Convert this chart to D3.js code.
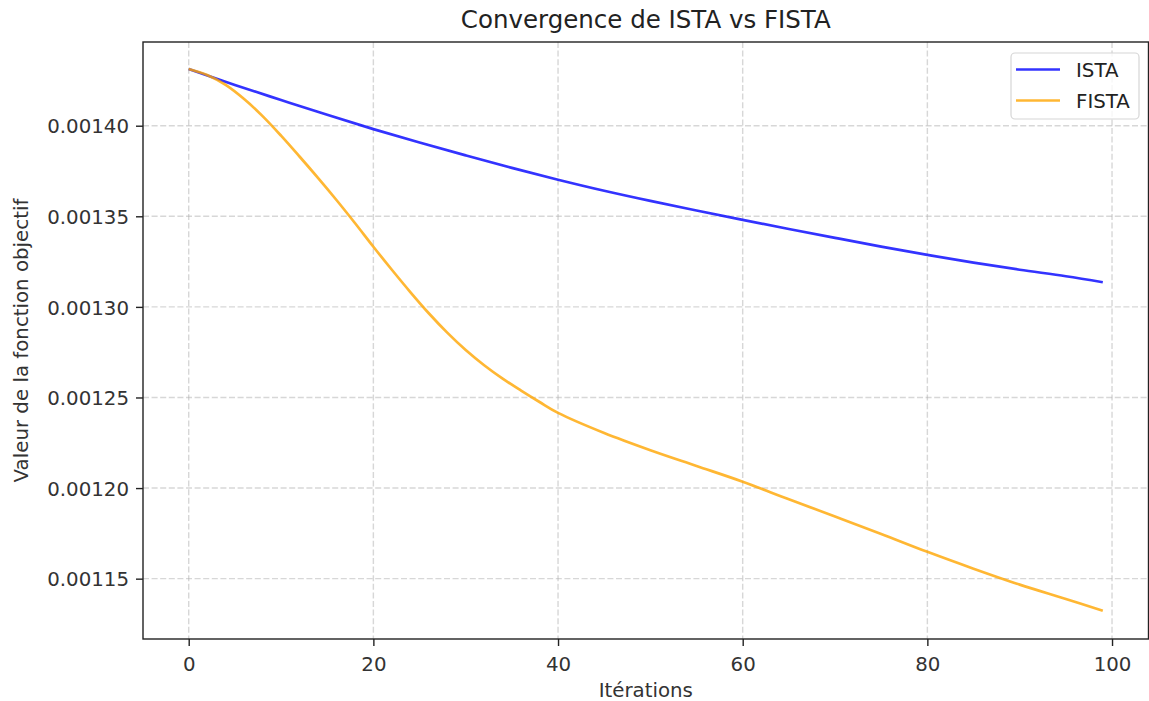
<!DOCTYPE html>
<html>
<head>
<meta charset="utf-8">
<script src="https://cdn.jsdelivr.net/npm/d3@7"></script>
<style>
  html, body { margin: 0; padding: 0; background: #fff; }
  svg { display: block; font-family: "DejaVu Sans", sans-serif; }
</style>
</head>
<body>
<svg width="1149" height="701"></svg>
<script>
// ISTA: iterations and objective values
var istaIterations = [0, 5, 10, 15, 20, 25, 30, 35, 40, 45, 50, 55, 60, 65, 70, 75, 80, 85, 90, 95, 99];
var istaValues = [0.0014313, 0.0014225, 0.0014142, 0.0014060, 0.0013981, 0.0013907, 0.0013836,
  0.0013767, 0.0013702, 0.0013641, 0.0013585, 0.0013532, 0.0013480, 0.0013430, 0.0013381,
  0.0013333, 0.0013287, 0.0013244, 0.0013205, 0.0013169, 0.0013136];

// FISTA: denser at the start where the curve bends
var fistaIterations = [0, 2, 4, 6, 8, 10, 12, 14, 16, 18, 20, 22, 24, 26, 28, 30, 32, 34, 36, 38, 40,
  45, 50, 55, 60, 65, 70, 75, 80, 85, 90, 95, 99];
var fistaValues = [0.0014313, 0.0014280, 0.0014225, 0.0014147, 0.0014053, 0.0013945, 0.0013830,
  0.0013712, 0.0013590, 0.0013463, 0.0013332, 0.0013205, 0.0013082, 0.0012965, 0.0012858,
  0.0012762, 0.0012678, 0.0012604, 0.0012538, 0.0012475, 0.0012415,
  0.0012304, 0.0012209, 0.0012122, 0.0012035, 0.0011938, 0.0011843, 0.0011747, 0.0011648,
  0.0011555, 0.0011467, 0.0011388, 0.0011323];

var xTicks = [0, 20, 40, 60, 80, 100];
var yTicks = [0.00115, 0.00120, 0.00125, 0.00130, 0.00135, 0.00140];

var seriesNames = ["ISTA", "FISTA"];
var seriesColors = ["blue", "orange"];

var svg = d3.select("svg"),
    plotLeft = 143, plotRight = 1148.5, plotTop = 42, plotBottom = 639;

var x = d3.scaleLinear().domain([-4.95, 103.95]).range([plotLeft, plotRight]);
var y = d3.scaleLinear().domain([0.0011167, 0.0014462]).range([plotBottom, plotTop]);

/*grid*/
var grid = svg.append("g")
    .attr("stroke", "#b0b0b0")
    .attr("stroke-opacity", 0.5)
    .attr("stroke-width", 1.4)
    .attr("stroke-dasharray", "6,2.6");

grid.selectAll(".vx").data(xTicks).enter().append("line")
    .attr("x1", function(d) { return x(d); })
    .attr("x2", function(d) { return x(d); })
    .attr("y1", plotTop).attr("y2", plotBottom);

grid.selectAll(".hy").data(yTicks).enter().append("line")
    .attr("y1", function(d) { return y(d); })
    .attr("y2", function(d) { return y(d); })
    .attr("x1", plotLeft).attr("x2", plotRight);

/*lines*/
svg.append("clipPath").attr("id", "plot-clip")
  .append("rect")
    .attr("x", plotLeft).attr("y", plotTop)
    .attr("width", plotRight - plotLeft).attr("height", plotBottom - plotTop);

var line = d3.line()
    .x(function(d) { return x(d[0]); })
    .y(function(d) { return y(d[1]); })
    .curve(d3.curveCatmullRom);

var series = [d3.zip(istaIterations, istaValues), d3.zip(fistaIterations, fistaValues)];

series.forEach(function(pts, i) {
  svg.append("path")
      .datum(pts)
      .attr("clip-path", "url(#plot-clip)")
      .attr("fill", "none")
      .attr("stroke", seriesColors[i])
      .attr("stroke-opacity", 0.8)
      .attr("stroke-width", 2.7)
      .attr("d", line);
});

/*axes*/
var xAxis = svg.append("g")
    .attr("transform", "translate(0," + plotBottom + ")")
    .call(d3.axisBottom(x).tickValues(xTicks).tickSize(7).tickPadding(6).tickSizeOuter(0)
      .tickFormat(d3.format("d")));

var yAxis = svg.append("g")
    .attr("transform", "translate(" + plotLeft + ",0)")
    .call(d3.axisLeft(y).tickValues(yTicks).tickSize(7).tickPadding(7).tickSizeOuter(0)
      .tickFormat(d3.format(".5f")));

[xAxis, yAxis].forEach(function(ax) {
  ax.select(".domain").remove();
  ax.selectAll("line").attr("stroke", "#222").attr("stroke-width", 1.4);
  ax.selectAll("text")
      .attr("fill", "#333")
      .style("font-size", "19.8px")
      .style("font-family", "'DejaVu Sans', sans-serif");
});
xAxis.selectAll("text").attr("dy", "0.95em");
yAxis.selectAll("text").attr("dy", "0.36em");

/*frame*/
svg.append("rect")
    .attr("x", plotLeft).attr("y", plotTop)
    .attr("width", plotRight - plotLeft).attr("height", plotBottom - plotTop)
    .attr("fill", "none")
    .attr("stroke", "#222")
    .attr("stroke-width", 1.4);

/*titles*/
svg.append("text")
    .attr("x", (plotLeft + plotRight) / 2).attr("y", 28)
    .attr("text-anchor", "middle")
    .attr("fill", "#222")
    .style("font-size", "24.5px")
    .text("Convergence de ISTA vs FISTA");

svg.append("text")
    .attr("x", (plotLeft + plotRight) / 2).attr("y", 697)
    .attr("text-anchor", "middle")
    .attr("fill", "#333")
    .style("font-size", "19.8px")
    .text("Itérations");

svg.append("text")
    .attr("transform", "translate(28," + (plotTop + plotBottom) / 2 + ") rotate(-90)")
    .attr("text-anchor", "middle")
    .attr("fill", "#333")
    .style("font-size", "19.8px")
    .text("Valeur de la fonction objectif");

/*legend*/
var legend = svg.append("g");
legend.append("rect")
    .attr("x", 1011).attr("y", 53)
    .attr("width", 128).attr("height", 66)
    .attr("rx", 4)
    .attr("fill", "#fff")
    .attr("fill-opacity", 0.8)
    .attr("stroke", "#d6d6d6")
    .attr("stroke-width", 1.2);

var item = legend.selectAll(".item").data(seriesNames).enter().append("g")
    .attr("transform", function(d, i) { return "translate(1016," + (69.5 + i * 31) + ")"; });

item.append("line")
    .attr("x1", 0).attr("x2", 44)
    .attr("stroke", function(d, i) { return seriesColors[i]; })
    .attr("stroke-opacity", 0.8)
    .attr("stroke-width", 2.7);

item.append("text")
    .attr("x", 60).attr("dy", "0.36em")
    .attr("fill", "#222")
    .style("font-size", "19.8px")
    .text(function(d) { return d; });
</script>
</body>
</html>
